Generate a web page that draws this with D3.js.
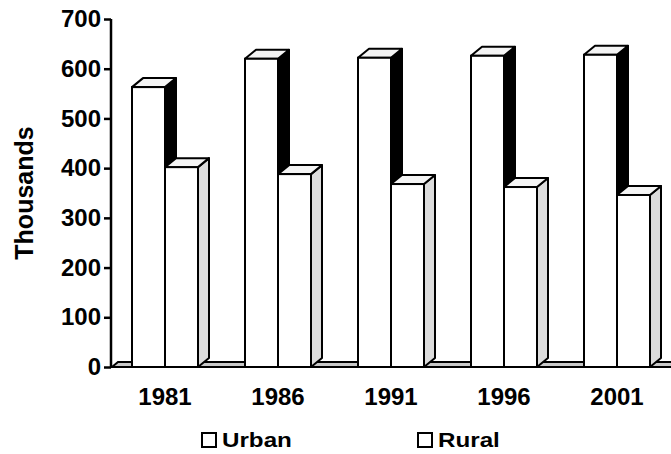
<!DOCTYPE html>
<html>
<head>
<meta charset="utf-8">
<script src="https://cdn.jsdelivr.net/npm/d3@7"></script>
<style>
    body { margin: 0; background: #fff; }
    text { font-family: "Liberation Sans", Arial, sans-serif; font-weight: bold; fill: #000; }
</style>
</head>
<body>
<script>
//chart data
var years = ["1981", "1986", "1991", "1996", "2001"];
var urban = [563, 620, 622, 626, 628];
var rural = [402, 388, 368, 362, 346];
var seriesNames = ["Urban", "Rural"];
var yTicks = [0, 100, 200, 300, 400, 500, 600, 700];

window.onload = drawChart();

function drawChart(){

    var width = 671,
        height = 454;

    //3d depth offsets
    var dx = 11,
        dy = 9;

    var svg = d3.select("body")
        .append("svg")
        .attr("width", width)
        .attr("height", height);

    var y = d3.scaleLinear()
        .domain([0, 700])
        .range([367, 19]);

    //groups of bars
    var x0 = d3.scaleBand()
        .domain(years)
        .range([112, 677]);

    //bars inside one group
    var x1 = d3.scaleBand()
        .domain(seriesNames)
        .range([20, 86]);

    var rows = years.map(function(yr, i){
        return { year: yr, values: [
            { name: "Urban", value: urban[i] },
            { name: "Rural", value: rural[i] }
        ]};
    });

    //floor strip
    var y0 = y(0);
    svg.append("path")
        .attr("d", "M112," + y0 + "L" + (width + 5) + "," + y0 +
            "L" + (width + 5) + "," + (y0 - 5) + "L" + (112 + 6) + "," + (y0 - 5) + "Z")
        .attr("fill", "#c8c8c8")
        .attr("stroke", "#000")
        .attr("stroke-width", 2);

    var sideFill = { Urban: "#000", Rural: "#dcdcdc" };

    var groups = svg.selectAll(".group")
        .data(rows)
        .enter()
        .append("g")
        .attr("class", "group")
        .attr("transform", function(d){ return "translate(" + x0(d.year) + ",0)"; });

    var bars = groups.selectAll(".bar")
        .data(function(d){ return d.values; })
        .enter()
        .append("g")
        .attr("class", "bar");

    //side face
    bars.append("path")
        .attr("d", function(d){
            var xa = x1(d.name) + x1.bandwidth(), yt = y(d.value);
            return "M" + xa + "," + yt + "L" + (xa + dx) + "," + (yt - dy) +
                "L" + (xa + dx) + "," + (y0 - dy) + "L" + xa + "," + y0 + "Z";
        })
        .attr("fill", function(d){ return sideFill[d.name]; })
        .attr("stroke", "#000")
        .attr("stroke-width", 2)
        .attr("stroke-linejoin", "round");

    //top face
    bars.append("path")
        .attr("d", function(d){
            var xa = x1(d.name), w = x1.bandwidth(), yt = y(d.value);
            return "M" + xa + "," + yt + "L" + (xa + dx) + "," + (yt - dy) +
                "L" + (xa + w + dx) + "," + (yt - dy) + "L" + (xa + w) + "," + yt + "Z";
        })
        .attr("fill", "#f4f4f4")
        .attr("stroke", "#000")
        .attr("stroke-width", 2)
        .attr("stroke-linejoin", "round");

    //front face
    bars.append("rect")
        .attr("x", function(d){ return x1(d.name); })
        .attr("y", function(d){ return y(d.value); })
        .attr("width", x1.bandwidth())
        .attr("height", function(d){ return y0 - y(d.value); })
        .attr("fill", "#fff")
        .attr("stroke", "#000")
        .attr("stroke-width", 2);

    //y axis
    var yAxis = d3.axisLeft(y)
        .tickValues(yTicks)
        .tickSize(7)
        .tickPadding(3);

    var gy = svg.append("g")
        .attr("transform", "translate(111,0)")
        .call(yAxis);
    gy.select(".domain").attr("stroke-width", 2.5).attr("d", "M-0," + y(700) + "V" + y0);
    gy.selectAll(".tick line").attr("stroke-width", 2.5);
    gy.selectAll("text").style("font-size", "24px").attr("fill", "#000");

    //x labels
    svg.selectAll(".xlabel")
        .data(years)
        .enter()
        .append("text")
        .attr("class", "xlabel")
        .attr("x", function(d){ return x0(d) + x1.range()[0] + x1.bandwidth(); })
        .attr("y", 405)
        .attr("text-anchor", "middle")
        .style("font-size", "24px")
        .text(function(d){ return d; });

    //y title
    svg.append("text")
        .attr("transform", "translate(33,193) rotate(-90)")
        .attr("text-anchor", "middle")
        .style("font-size", "25px")
        .text("Thousands");

    //legend
    var legendX = { Urban: 202, Rural: 418 };
    var legend = svg.selectAll(".legend")
        .data(seriesNames)
        .enter()
        .append("g")
        .attr("class", "legend")
        .attr("transform", function(d){ return "translate(" + legendX[d] + ",433)"; });

    legend.append("rect")
        .attr("width", 14)
        .attr("height", 14)
        .attr("fill", "#fff")
        .attr("stroke", "#000")
        .attr("stroke-width", 2);

    legend.append("text")
        .attr("transform", "translate(20,14) scale(1.18,1)")
        .style("font-size", "20.5px")
        .text(function(d){ return d; });
};
</script>
</body>
</html>
